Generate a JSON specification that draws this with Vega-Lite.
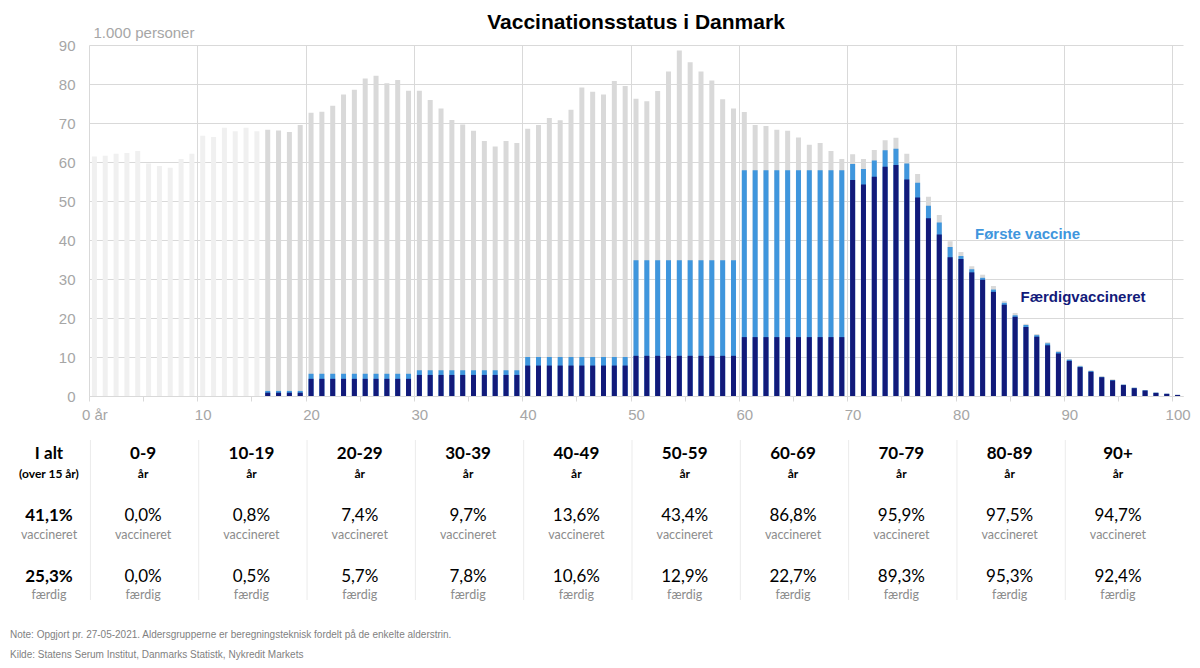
{
  "$schema": "https://vega.github.io/schema/vega-lite/v6.json",
  "width": 1094,
  "height": 351,
  "autosize": {"type": "none"},
  "padding": {"left": 89, "top": 45, "right": 17, "bottom": 272},
  "background": "white",
  "config": {
    "view": {"stroke": null},
    "font": "Liberation Sans",
    "axisY": {"labelOverlap": false, "labelSeparation": 0}
  },
  "title": {
    "text": "Vaccinationsstatus i Danmark",
    "font": "Liberation Sans",
    "fontSize": 21,
    "fontWeight": "bold",
    "color": "#000000",
    "anchor": "middle",
    "offset": -8
  },
  "datasets": {
    "ages": [
      {"age": 0, "pop": 61.4, "first": 0, "done": 0},
      {"age": 1, "pop": 61.6, "first": 0, "done": 0},
      {"age": 2, "pop": 62.1, "first": 0, "done": 0},
      {"age": 3, "pop": 62.3, "first": 0, "done": 0},
      {"age": 4, "pop": 62.8, "first": 0, "done": 0},
      {"age": 5, "pop": 59.6, "first": 0, "done": 0},
      {"age": 6, "pop": 59.0, "first": 0, "done": 0},
      {"age": 7, "pop": 58.5, "first": 0, "done": 0},
      {"age": 8, "pop": 60.8, "first": 0, "done": 0},
      {"age": 9, "pop": 62.1, "first": 0, "done": 0},
      {"age": 10, "pop": 66.7, "first": 0, "done": 0},
      {"age": 11, "pop": 66.4, "first": 0, "done": 0},
      {"age": 12, "pop": 68.8, "first": 0, "done": 0},
      {"age": 13, "pop": 67.9, "first": 0, "done": 0},
      {"age": 14, "pop": 68.8, "first": 0, "done": 0},
      {"age": 15, "pop": 67.9, "first": 0, "done": 0},
      {"age": 16, "pop": 68.3, "first": 1.3, "done": 0.85},
      {"age": 17, "pop": 68.1, "first": 1.3, "done": 0.85},
      {"age": 18, "pop": 67.7, "first": 1.3, "done": 0.85},
      {"age": 19, "pop": 69.5, "first": 1.3, "done": 0.85},
      {"age": 20, "pop": 72.6, "first": 5.7, "done": 4.4},
      {"age": 21, "pop": 72.9, "first": 5.7, "done": 4.4},
      {"age": 22, "pop": 74.4, "first": 5.7, "done": 4.4},
      {"age": 23, "pop": 77.3, "first": 5.7, "done": 4.4},
      {"age": 24, "pop": 78.5, "first": 5.7, "done": 4.4},
      {"age": 25, "pop": 81.4, "first": 5.7, "done": 4.4},
      {"age": 26, "pop": 82.1, "first": 5.7, "done": 4.4},
      {"age": 27, "pop": 80.2, "first": 5.7, "done": 4.4},
      {"age": 28, "pop": 81.0, "first": 5.7, "done": 4.4},
      {"age": 29, "pop": 78.3, "first": 5.7, "done": 4.4},
      {"age": 30, "pop": 78.3, "first": 6.6, "done": 5.4},
      {"age": 31, "pop": 75.9, "first": 6.6, "done": 5.4},
      {"age": 32, "pop": 73.7, "first": 6.6, "done": 5.4},
      {"age": 33, "pop": 70.8, "first": 6.6, "done": 5.4},
      {"age": 34, "pop": 69.6, "first": 6.6, "done": 5.4},
      {"age": 35, "pop": 68.0, "first": 6.6, "done": 5.4},
      {"age": 36, "pop": 65.4, "first": 6.6, "done": 5.4},
      {"age": 37, "pop": 64.0, "first": 6.6, "done": 5.4},
      {"age": 38, "pop": 65.4, "first": 6.6, "done": 5.4},
      {"age": 39, "pop": 64.9, "first": 6.6, "done": 5.4},
      {"age": 40, "pop": 68.5, "first": 10.0, "done": 7.8},
      {"age": 41, "pop": 69.5, "first": 10.0, "done": 7.8},
      {"age": 42, "pop": 71.3, "first": 10.0, "done": 7.8},
      {"age": 43, "pop": 70.7, "first": 10.0, "done": 7.8},
      {"age": 44, "pop": 73.4, "first": 10.0, "done": 7.8},
      {"age": 45, "pop": 79.1, "first": 10.0, "done": 7.8},
      {"age": 46, "pop": 78.0, "first": 10.0, "done": 7.8},
      {"age": 47, "pop": 77.3, "first": 10.0, "done": 7.8},
      {"age": 48, "pop": 80.8, "first": 10.0, "done": 7.8},
      {"age": 49, "pop": 79.5, "first": 10.0, "done": 7.8},
      {"age": 50, "pop": 76.2, "first": 34.8, "done": 10.3},
      {"age": 51, "pop": 75.6, "first": 34.8, "done": 10.3},
      {"age": 52, "pop": 78.2, "first": 34.8, "done": 10.3},
      {"age": 53, "pop": 83.2, "first": 34.8, "done": 10.3},
      {"age": 54, "pop": 88.6, "first": 34.8, "done": 10.3},
      {"age": 55, "pop": 85.6, "first": 34.8, "done": 10.3},
      {"age": 56, "pop": 83.2, "first": 34.8, "done": 10.3},
      {"age": 57, "pop": 80.9, "first": 34.8, "done": 10.3},
      {"age": 58, "pop": 76.1, "first": 34.8, "done": 10.3},
      {"age": 59, "pop": 73.7, "first": 34.8, "done": 10.3},
      {"age": 60, "pop": 72.8, "first": 57.9, "done": 15.1},
      {"age": 61, "pop": 69.5, "first": 57.9, "done": 15.1},
      {"age": 62, "pop": 69.2, "first": 57.9, "done": 15.1},
      {"age": 63, "pop": 68.3, "first": 57.9, "done": 15.1},
      {"age": 64, "pop": 68.0, "first": 57.9, "done": 15.1},
      {"age": 65, "pop": 66.3, "first": 57.9, "done": 15.1},
      {"age": 66, "pop": 64.4, "first": 57.9, "done": 15.1},
      {"age": 67, "pop": 64.9, "first": 57.9, "done": 15.1},
      {"age": 68, "pop": 62.8, "first": 57.9, "done": 15.1},
      {"age": 69, "pop": 60.8, "first": 57.9, "done": 15.1},
      {"age": 70, "pop": 62.0, "first": 59.5, "done": 55.4},
      {"age": 71, "pop": 60.8, "first": 58.2, "done": 54.2},
      {"age": 72, "pop": 63.1, "first": 60.4, "done": 56.2},
      {"age": 73, "pop": 65.6, "first": 63.0, "done": 58.8},
      {"age": 74, "pop": 66.2, "first": 63.4, "done": 59.2},
      {"age": 75, "pop": 62.1, "first": 59.6, "done": 55.5},
      {"age": 76, "pop": 56.9, "first": 54.7, "done": 50.9},
      {"age": 77, "pop": 51.1, "first": 48.8, "done": 45.6},
      {"age": 78, "pop": 46.4, "first": 44.5, "done": 41.4},
      {"age": 79, "pop": 39.7, "first": 38.2, "done": 35.6},
      {"age": 80, "pop": 36.9, "first": 35.9, "done": 35.1},
      {"age": 81, "pop": 33.3, "first": 32.5, "done": 31.7},
      {"age": 82, "pop": 31.1, "first": 30.3, "done": 29.8},
      {"age": 83, "pop": 28.2, "first": 27.3, "done": 26.7},
      {"age": 84, "pop": 24.4, "first": 23.9, "done": 23.4},
      {"age": 85, "pop": 21.3, "first": 20.7, "done": 20.3},
      {"age": 86, "pop": 18.5, "first": 18.2, "done": 17.7},
      {"age": 87, "pop": 15.9, "first": 15.6, "done": 15.2},
      {"age": 88, "pop": 13.8, "first": 13.5, "done": 13.0},
      {"age": 89, "pop": 11.6, "first": 11.3, "done": 10.9},
      {"age": 90, "pop": 9.5, "first": 9.3, "done": 9.0},
      {"age": 91, "pop": 7.8, "first": 7.6, "done": 7.4},
      {"age": 92, "pop": 6.6, "first": 6.4, "done": 6.2},
      {"age": 93, "pop": 5.1, "first": 4.9, "done": 4.8},
      {"age": 94, "pop": 4.3, "first": 4.1, "done": 4.0},
      {"age": 95, "pop": 3.0, "first": 2.9, "done": 2.8},
      {"age": 96, "pop": 2.2, "first": 2.1, "done": 2.0},
      {"age": 97, "pop": 1.5, "first": 1.45, "done": 1.4},
      {"age": 98, "pop": 0.9, "first": 0.85, "done": 0.8},
      {"age": 99, "pop": 0.6, "first": 0.57, "done": 0.55},
      {"age": 100, "pop": 0.3, "first": 0.28, "done": 0.27}
    ],
    "groups": [
      {"grp": "0-9", "lo": 0, "vacc": "0,0%", "faerdig": "0,0%"},
      {"grp": "10-19", "lo": 10, "vacc": "0,8%", "faerdig": "0,5%"},
      {"grp": "20-29", "lo": 20, "vacc": "7,4%", "faerdig": "5,7%"},
      {"grp": "30-39", "lo": 30, "vacc": "9,7%", "faerdig": "7,8%"},
      {"grp": "40-49", "lo": 40, "vacc": "13,6%", "faerdig": "10,6%"},
      {"grp": "50-59", "lo": 50, "vacc": "43,4%", "faerdig": "12,9%"},
      {"grp": "60-69", "lo": 60, "vacc": "86,8%", "faerdig": "22,7%"},
      {"grp": "70-79", "lo": 70, "vacc": "95,9%", "faerdig": "89,3%"},
      {"grp": "80-89", "lo": 80, "vacc": "97,5%", "faerdig": "95,3%"},
      {"grp": "90+", "lo": 90, "vacc": "94,7%", "faerdig": "92,4%"}
    ],
    "total": [
      {"grp": "I alt", "sub": "(over 15 år)", "vacc": "41,1%", "faerdig": "25,3%"}
    ]
  },
  "layer": [
    {
      "data": {"name": "ages"},
      "mark": {"type": "bar", "orient": "vertical", "width": 5},
      "encoding": {
        "x": {
          "field": "age",
          "type": "quantitative",
          "scale": {"domain": [-0.5, 100.5], "nice": false, "zero": false, "padding": 0},
          "axis": {
            "title": null,
            "values": [-0.5, 4.5, 9.5, 14.5, 19.5, 24.5, 29.5, 34.5, 39.5, 44.5, 49.5, 54.5, 59.5, 64.5, 69.5, 74.5, 79.5, 84.5, 89.5, 94.5, 99.5],
            "labelExpr": "datum.value === -0.5 ? '0 år' : ((datum.value + 0.5) % 10 === 0 ? format(datum.value + 0.5, 'd') : '')",
            "labelOffset": 5.4,
            "labelFlush": false,
            "labelBound": false,
            "labelOverlap": false,
            "labelFont": "Liberation Sans",
            "labelFontSize": 15,
            "labelColor": "#a6a6a6",
            "labelPadding": 6,
            "ticks": true,
            "tickSize": 5,
            "tickColor": "#d9d9d9",
            "domain": true,
            "domainColor": "#d9d9d9",
            "grid": true,
            "gridColor": "#d9d9d9",
            "gridOpacity": {"condition": {"test": "(datum.value + 0.5) % 10 === 0", "value": 1}, "value": 0}
          }
        },
        "y": {
          "field": "pop",
          "type": "quantitative",
          "scale": {"domain": [0, 90], "nice": false, "padding": 0},
          "axis": {
            "title": "1.000 personer",
            "titleAngle": 0,
            "titleAlign": "left",
            "titleBaseline": "alphabetic",
            "titleX": 4,
            "titleY": -8,
            "titleFont": "Liberation Sans",
            "titleFontSize": 15,
            "titleFontWeight": "normal",
            "titleColor": "#a6a6a6",
            "values": [0, 10, 20, 30, 40, 50, 60, 70, 80, 90],
            "tickCount": 10,
            "labelOverlap": false,
            "labelFont": "Liberation Sans",
            "labelFontSize": 15,
            "labelColor": "#a6a6a6",
            "labelPadding": 14,
            "ticks": false,
            "domain": false,
            "grid": true,
            "gridColor": "#d9d9d9"
          }
        },
        "color": {"condition": {"test": "datum.age < 16", "value": "#f0f0f0"}, "value": "#d9d9d9"}
      }
    },
    {
      "data": {"name": "ages"},
      "mark": {"type": "bar", "orient": "vertical", "width": 5, "color": "#3f96dd"},
      "encoding": {
        "x": {"field": "age", "type": "quantitative"},
        "y": {"field": "first", "type": "quantitative"}
      }
    },
    {
      "data": {"name": "ages"},
      "mark": {"type": "bar", "orient": "vertical", "width": 5, "color": "#121a7a"},
      "encoding": {
        "x": {"field": "age", "type": "quantitative"},
        "y": {"field": "done", "type": "quantitative"}
      }
    },
    {
      "data": {"values": [{}]},
      "mark": {"type": "text", "text": "Første vaccine", "align": "left", "baseline": "middle", "font": "Liberation Sans", "fontSize": 15, "fontWeight": "bold", "color": "#3f96dd"},
      "encoding": {"x": {"datum": 81.3}, "y": {"datum": 41.5}}
    },
    {
      "data": {"values": [{}]},
      "mark": {"type": "text", "text": "Færdigvaccineret", "align": "left", "baseline": "middle", "font": "Liberation Sans", "fontSize": 15, "fontWeight": "bold", "color": "#121a7a"},
      "encoding": {"x": {"datum": 85.5}, "y": {"datum": 25.5}}
    },
    {
      "data": {"name": "groups"},
      "mark": {"type": "rule", "color": "#ebebeb", "strokeWidth": 1, "xOffset": -4, "yOffset": 44, "y2Offset": 204},
      "encoding": {"x": {"field": "lo", "type": "quantitative"}, "y": {"datum": 0}, "y2": {"datum": 0}}
    },
    {
      "data": {"name": "groups"},
      "mark": {"type": "text", "font": "Lato", "fontSize": 17, "fontWeight": "bold", "color": "#000000", "baseline": "alphabetic", "dx": 48.7, "dy": 63},
      "encoding": {"x": {"field": "lo", "type": "quantitative"}, "y": {"datum": 0}, "text": {"field": "grp"}}
    },
    {
      "data": {"name": "groups"},
      "mark": {"type": "text", "text": "år", "font": "Lato", "fontSize": 12, "fontWeight": "bold", "color": "#000000", "baseline": "alphabetic", "dx": 48.7, "dy": 81.5},
      "encoding": {"x": {"field": "lo", "type": "quantitative"}, "y": {"datum": 0}}
    },
    {
      "data": {"name": "groups"},
      "mark": {"type": "text", "font": "Lato", "fontSize": 17, "color": "#000000", "baseline": "alphabetic", "dx": 48.7, "dy": 124.5},
      "encoding": {"x": {"field": "lo", "type": "quantitative"}, "y": {"datum": 0}, "text": {"field": "vacc"}}
    },
    {
      "data": {"name": "groups"},
      "mark": {"type": "text", "text": "vaccineret", "font": "Lato", "fontSize": 12.5, "color": "#8c8c8c", "baseline": "alphabetic", "dx": 48.7, "dy": 143.3},
      "encoding": {"x": {"field": "lo", "type": "quantitative"}, "y": {"datum": 0}}
    },
    {
      "data": {"name": "groups"},
      "mark": {"type": "text", "font": "Lato", "fontSize": 17, "color": "#000000", "baseline": "alphabetic", "dx": 48.7, "dy": 185.5},
      "encoding": {"x": {"field": "lo", "type": "quantitative"}, "y": {"datum": 0}, "text": {"field": "faerdig"}}
    },
    {
      "data": {"name": "groups"},
      "mark": {"type": "text", "text": "færdig", "font": "Lato", "fontSize": 12.5, "color": "#8c8c8c", "baseline": "alphabetic", "dx": 48.7, "dy": 202.5},
      "encoding": {"x": {"field": "lo", "type": "quantitative"}, "y": {"datum": 0}}
    },
    {
      "data": {"name": "total"},
      "mark": {"type": "text", "font": "Lato", "fontSize": 17, "fontWeight": "bold", "color": "#000000", "baseline": "alphabetic", "dx": -40, "dy": 63},
      "encoding": {"x": {"datum": -0.5}, "y": {"datum": 0}, "text": {"field": "grp"}}
    },
    {
      "data": {"name": "total"},
      "mark": {"type": "text", "font": "Lato", "fontSize": 12, "fontWeight": "bold", "color": "#000000", "baseline": "alphabetic", "dx": -40, "dy": 81.5},
      "encoding": {"x": {"datum": -0.5}, "y": {"datum": 0}, "text": {"field": "sub"}}
    },
    {
      "data": {"name": "total"},
      "mark": {"type": "text", "font": "Lato", "fontSize": 17, "fontWeight": "bold", "color": "#000000", "baseline": "alphabetic", "dx": -40, "dy": 124.5},
      "encoding": {"x": {"datum": -0.5}, "y": {"datum": 0}, "text": {"field": "vacc"}}
    },
    {
      "data": {"name": "total"},
      "mark": {"type": "text", "text": "vaccineret", "font": "Lato", "fontSize": 12.5, "color": "#8c8c8c", "baseline": "alphabetic", "dx": -40, "dy": 143.3},
      "encoding": {"x": {"datum": -0.5}, "y": {"datum": 0}}
    },
    {
      "data": {"name": "total"},
      "mark": {"type": "text", "font": "Lato", "fontSize": 17, "fontWeight": "bold", "color": "#000000", "baseline": "alphabetic", "dx": -40, "dy": 185.5},
      "encoding": {"x": {"datum": -0.5}, "y": {"datum": 0}, "text": {"field": "faerdig"}}
    },
    {
      "data": {"name": "total"},
      "mark": {"type": "text", "text": "færdig", "font": "Lato", "fontSize": 12.5, "color": "#8c8c8c", "baseline": "alphabetic", "dx": -40, "dy": 202.5},
      "encoding": {"x": {"datum": -0.5}, "y": {"datum": 0}}
    },
    {
      "data": {"values": [{}]},
      "mark": {"type": "text", "text": "Note: Opgjort pr. 27-05-2021. Aldersgrupperne er beregningsteknisk fordelt på de enkelte alderstrin.", "align": "left", "baseline": "alphabetic", "font": "Liberation Sans", "fontSize": 10, "color": "#7f7f7f", "dx": -79, "dy": 242},
      "encoding": {"x": {"datum": -0.5}, "y": {"datum": 0}}
    },
    {
      "data": {"values": [{}]},
      "mark": {"type": "text", "text": "Kilde: Statens Serum Institut, Danmarks Statistk, Nykredit Markets", "align": "left", "baseline": "alphabetic", "font": "Liberation Sans", "fontSize": 10, "color": "#7f7f7f", "dx": -79, "dy": 262},
      "encoding": {"x": {"datum": -0.5}, "y": {"datum": 0}}
    }
  ]
}
